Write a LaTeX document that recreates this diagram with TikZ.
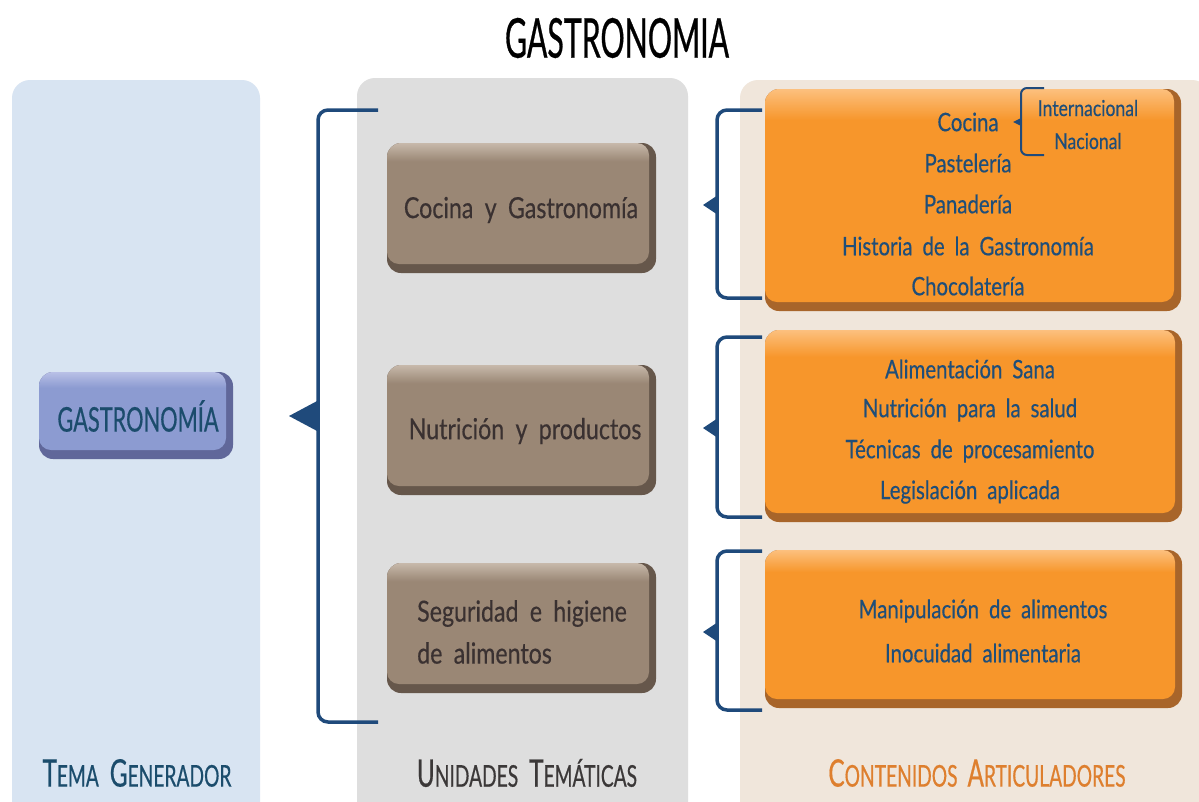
\documentclass[tikz,border=0pt]{standalone}
\usepackage{fontspec}
\setmainfont{Lato}[FakeStretch=0.8, WordSpace=1.9, FakeBold=0.4]
\newfontfamily\titlef{Lato}[FakeStretch=0.55, FakeBold=0.5]
\newfontfamily\capsf{Lato}[FakeStretch=0.64, FakeBold=0.5]
\usetikzlibrary{shapes.geometric}

\definecolor{panelblue}{HTML}{D8E4F2}
\definecolor{panelgray}{HTML}{DEDEDE}
\definecolor{panelbeige}{HTML}{F0E6DB}
\definecolor{omain}{HTML}{F7962B}
\definecolor{olight}{HTML}{FCC07E}
\definecolor{odark}{HTML}{A8652A}
\definecolor{bmain}{HTML}{9A8775}
\definecolor{blight}{HTML}{C7B9AB}
\definecolor{bdark}{HTML}{66574B}
\definecolor{vmain}{HTML}{8C9BD1}
\definecolor{vlight}{HTML}{B9C0E6}
\definecolor{vdark}{HTML}{60679A}
\definecolor{brk}{HTML}{1F4A7B}
\definecolor{txtblue}{HTML}{1F4E79}
\definecolor{txtteal}{HTML}{1B4C6C}
\definecolor{txtbrown}{HTML}{3A3131}
\definecolor{lblorange}{HTML}{DE7F2E}
\definecolor{lblgray}{HTML}{3B3838}

\pgfdeclareverticalshading{obev}{100bp}{color(0bp)=(omain); color(25bp)=(omain); color(68bp)=(omain); color(75bp)=(olight); color(100bp)=(olight)}
\pgfdeclareverticalshading{bbev}{100bp}{color(0bp)=(bmain); color(25bp)=(bmain); color(68bp)=(bmain); color(75bp)=(blight); color(100bp)=(blight)}
\pgfdeclareverticalshading{vbev}{100bp}{color(0bp)=(vmain); color(25bp)=(vmain); color(66bp)=(vmain); color(75bp)=(vlight); color(100bp)=(vlight)}

\newcommand\fsc[2]{{\capsf\fontsize{38}{44}\selectfont #1}{\capsf\fontsize{30}{36}\selectfont #2}}

\tikzset{
  bevel/.style n args={2}{draw=none, rounded corners=14pt, fill=#1, inner sep=0pt,
    path picture={\shade[shading=#2, rounded corners=12pt]
      (path picture bounding box.north west) rectangle
      ([xshift=-7pt,yshift=9pt]path picture bounding box.south east);}},
  panel/.style={draw=none, rounded corners=18pt},
  otxt/.style={text=txtblue, font=\fontsize{25.5}{30}\selectfont, inner sep=0pt, anchor=center},
  btxt/.style={text=txtbrown, font=\fontsize{29}{35}\selectfont, inner sep=0pt},
  brkline/.style={draw=brk, line width=3.5pt, rounded corners=10pt},
  brktri/.style={fill=brk, draw=none},
  lbl/.style={inner sep=0pt, anchor=center},
}

\begin{document}
\begin{tikzpicture}[x=1pt,y=-1pt]
\useasboundingbox (0,0) rectangle (1199,801);
\clip (0,0) rectangle (1199,801);
\fill[white] (0,0) rectangle (1199,801);

% panels
\fill[panel, panelblue] (12,80) rectangle (260,840);
\fill[panel, panelgray] (357,78) rectangle (688,840);
\fill[panel, panelbeige] (740,80) rectangle (1210,840);

% title
\node[lbl, font=\titlef\fontsize{55}{60}\selectfont] (title) at (617,38) {GASTRONOMIA};

% tema generador
\node[bevel={vdark}{vbev}, minimum width=194pt, minimum height=87pt] (tg) at (136,415.5) {};
\node[lbl, text=txtteal, font=\capsf\fontsize{34}{40}\selectfont] (tgt) at (138,416) {GASTRONOMÍA};

% unidades
\node[bevel={bdark}{bbev}, minimum width=269pt, minimum height=130pt] (u1) at (521.5,208) {};
\node[bevel={bdark}{bbev}, minimum width=269pt, minimum height=130pt] (u2) at (521.5,430) {};
\node[bevel={bdark}{bbev}, minimum width=269pt, minimum height=130pt] (u3) at (521.5,628) {};
\node[btxt] (u1t) at (521,210) {Cocina y Gastronomía};
\node[btxt] (u2t) at (525,431) {Nutrición y productos};
\node[btxt, align=left, anchor=west, font=\fontsize{29}{42}\selectfont] (u3t) at (417,632) {Seguridad e higiene\\de alimentos};

% big bracket
\coordinate (bt) at (378,110);
\coordinate (bb) at (378,722);
\draw[brkline] (bt) -- (318,110) -- (318,722) -- (bb);
\fill[brktri] (319,400) -- (289,416) -- (319,432) -- cycle;

% contenidos boxes
\node[bevel={odark}{obev}, minimum width=416pt, minimum height=222pt] (c1) at (973,200) {};
\node[bevel={odark}{obev}, minimum width=417pt, minimum height=192pt] (c2) at (973.5,426) {};
\node[bevel={odark}{obev}, minimum width=417pt, minimum height=158pt] (c3) at (973.5,629) {};

% right brackets
\coordinate (r1t) at (762,110);
\coordinate (r1b) at (762,298);
\draw[brkline] (r1t) -- (717,110) -- (717,298) -- (r1b);
\fill[brktri] (718,195) -- (703,205) -- (718,215) -- cycle;
\coordinate (r2t) at (762,337);
\coordinate (r2b) at (762,517);
\draw[brkline] (r2t) -- (717,337) -- (717,517) -- (r2b);
\fill[brktri] (718,418) -- (703,428) -- (718,438) -- cycle;
\coordinate (r3t) at (762,551);
\coordinate (r3b) at (762,710);
\draw[brkline] (r3t) -- (717,551) -- (717,710) -- (r3b);
\fill[brktri] (718,622) -- (703,632) -- (718,642) -- cycle;

% box 1 texts
\node[otxt] (k1) at (968,122) {Cocina};
\node[otxt] (k2) at (968,163) {Pastelería};
\node[otxt] (k3) at (968,204) {Panadería};
\node[otxt] (k4) at (968,246) {Historia de la Gastronomía};
\node[otxt] (k5) at (968,286) {Chocolatería};
\node[otxt, font=\fontsize{22}{26}\selectfont] (k6) at (1088,108) {Internacional};
\node[otxt, font=\fontsize{22}{26}\selectfont] (k7) at (1088,141) {Nacional};
\coordinate (s1t) at (1044,88);
\coordinate (s1b) at (1044,155);
\draw[draw=brk, line width=2pt, rounded corners=6pt] (s1t) -- (1021,88) -- (1021,155) -- (s1b);
\fill[brktri] (1021,118) -- (1013,122) -- (1021,126) -- cycle;

% box 2 texts
\node[otxt] (n1) at (970,369) {Alimentación Sana};
\node[otxt] (n2) at (970,410) {Nutrición para la salud};
\node[otxt] (n3) at (970,451) {Técnicas de procesamiento};
\node[otxt] (n4) at (970,492) {Legislación aplicada};

% box 3 texts
\node[otxt] (m1) at (983,611) {Manipulación de alimentos};
\node[otxt] (m2) at (983,653) {Inocuidad alimentaria};

% column labels
\node[lbl, text=txtteal] (l1) at (137,773) {\fsc{T}{EMA}\hspace{11pt}\fsc{G}{ENERADOR}};
\node[lbl, text=lblgray] (l2) at (527,773) {\fsc{U}{NIDADES}\hspace{11pt}\fsc{T}{EMÁTICAS}};
\node[lbl, text=lblorange] (l3) at (977,773) {\fsc{C}{ONTENIDOS}\hspace{10pt}\fsc{A}{RTICULADORES}};
\end{tikzpicture}
\end{document}
